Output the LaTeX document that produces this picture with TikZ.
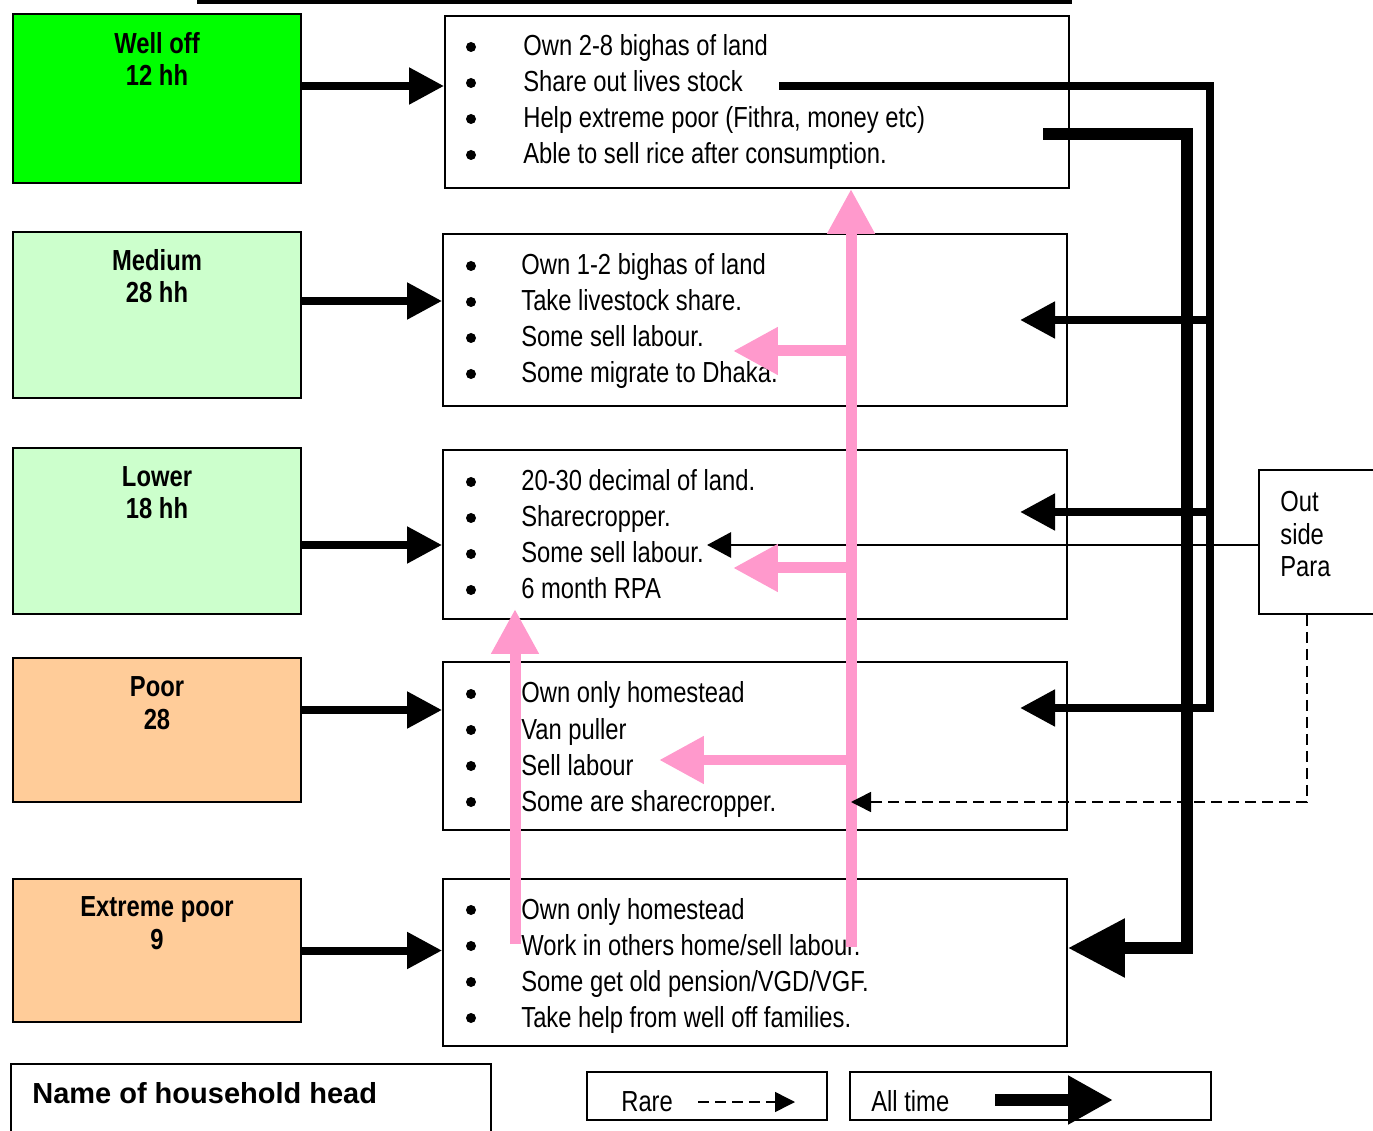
\documentclass[tikz,border=0pt]{standalone}
\usepackage{fontspec}
\setmainfont{Liberation Sans}[FakeStretch=0.82]
\newfontfamily\legendfont{Liberation Sans}
\usetikzlibrary{arrows.meta}
\definecolor{welloffgreen}{RGB}{0,255,0}
\definecolor{palegreen}{RGB}{204,255,204}
\definecolor{peach}{RGB}{255,204,153}
\definecolor{pinkline}{RGB}{255,153,204}
\def\rowfont{\fontsize{16.5}{18.7}\selectfont}
\tikzset{
	catbox/.style={draw, line width=1.1pt, minimum width=5.76cm, inner sep=0pt},
	infobox/.style={draw, line width=1.1pt, minimum width=12.48cm, inner sep=0pt},
	cattitle/.style={font=\rowfont\bfseries, align=center, anchor=base, inner sep=0pt},
	row/.style={font=\rowfont, anchor=base west, inner sep=0pt},
	dot/.style={circle, fill, inner sep=0pt, minimum size=0.2cm},
	allarrow/.style={line width=0.16cm, -{Triangle[length=0.7cm,width=0.7cm]}},
	busthick/.style={line width=0.24cm, line join=miter, -{Triangle[length=1.14cm,width=1.12cm]}},
	pinkarrow/.style={draw=pinkline, line width=0.22cm, -{Triangle[length=0.9cm,width=0.9cm]}},
	thinarrow/.style={line width=1.7pt, -{Triangle[length=0.48cm,width=0.5cm]}},
	rarearrow/.style={line width=0.85pt, dash pattern=on 0.22cm off 0.12cm, -{Triangle[length=0.4cm,width=0.4cm]}}
}
% bullet rows of one box: x of text, first baseline, name prefix, rows
\def\bulletrows#1#2#3#4{%
	\foreach \txt [count=\i] in {#4} {
		\node[dot] at ({471},{#2-9+36*(\i-1)}) {};
		\node[row] (#3\i) at ({#1},{#2+36*(\i-1)}) {\txt};
	}%
}

\begin{document}
\begin{tikzpicture}[x=0.02cm,y=-0.02cm]
	%%%%% START %%%%%
	\clip (0,0) rectangle (1373,1131);
	\draw[line width=2.8pt] (197,2) -- (1072,2);
	
	% household groups
	\node[catbox, fill=welloffgreen, minimum height=3.38cm] (welloff) at (157,98.5) {};
	\node[catbox, fill=palegreen, minimum height=3.32cm] (medium) at (157,315) {};
	\node[catbox, fill=palegreen, minimum height=3.32cm] (lower) at (157,531) {};
	\node[catbox, fill=peach, minimum height=2.88cm] (poor) at (157,730) {};
	\node[catbox, fill=peach, minimum height=2.86cm] (xpoor) at (157,950.5) {};
	
	\node[cattitle] (welloff-name) at (157,86) {Well off\\12 hh};
	\node[cattitle] (medium-name) at (157,303) {Medium\\28 hh};
	\node[cattitle] (lower-name) at (157,519) {Lower\\18 hh};
	\node[cattitle] (poor-name) at (157,729) {Poor\\28};
	\node[cattitle] (xpoor-name) at (157,949) {Extreme poor\\9};
	
	% what each group has
	\node[infobox, minimum height=3.44cm] (welloff-info) at (757,102) {};
	\node[infobox, minimum height=3.44cm] (medium-info) at (755,320) {};
	\node[infobox, minimum height=3.38cm] (lower-info) at (755,534.5) {};
	\node[infobox, minimum height=3.36cm] (poor-info) at (755,746) {};
	\node[infobox, minimum height=3.34cm] (xpoor-info) at (755,962.5) {};
	
	\bulletrows{523}{56}{w}{Own 2-8 bighas of land, Share out lives stock, {Help extreme poor (Fithra, money etc)}, Able to sell rice after consumption.}
	\bulletrows{521}{275}{m}{Own 1-2 bighas of land, Take livestock share., Some sell labour., Some migrate to Dhaka.}
	\bulletrows{521}{491}{l}{20-30 decimal of land., Sharecropper., Some sell labour., 6 month RPA}
	\bulletrows{521}{703}{p}{Own only homestead, Van puller, Sell labour, Some are sharecropper.}
	\bulletrows{521}{919}{x}{Own only homestead, Work in others home/sell labour., Some get old pension/VGD/VGF., Take help from well off families.}
	
	\foreach \a/\s in {welloff/0.25, medium/0.28, lower/-0.28, poor/0.4, xpoor/0}
		\draw[allarrow] ([yshift=\s cm]\a.east) -- ([yshift=\s cm]\a.east -| \a-info.west);
	
	% outside para
	\node[draw, line width=1.1pt, minimum width=4.56cm, minimum height=2.88cm] (para) at (1373,542) {};
	\node[row, align=left] (para-name) at (1280,577) {Out\\side\\Para};
	
	% sharing lines on the right
	\coordinate (share end) at (779,86);
	\coordinate (bus a top) at (1210,86);
	\coordinate (bus a low) at (1210,708);
	\coordinate (medium tip) at (1020,320);
	\coordinate (lower tip) at (1020,512);
	\coordinate (poor tip) at (1020,708);
	\draw[allarrow, line join=miter] (share end) -- (bus a top) -- (bus a low) -- (poor tip);
	\draw[allarrow] (bus a top |- medium tip) -- (medium tip);
	\draw[allarrow] (bus a top |- lower tip) -- (lower tip);
	
	\coordinate (help end) at (1043,134);
	\coordinate (bus b top) at (1187,134);
	\draw[busthick] (help end) -- (bus b top) -- ([yshift=0.29cm]bus b top |- xpoor-info.east) -- ([yshift=0.29cm]xpoor-info.east);
	
	\coordinate (para tip) at (707,545);
	\draw[thinarrow] (para.west |- para tip) -- (para tip);
	
	% movement between groups
	\coordinate (pink foot) at (851,947);
	\coordinate (pk medium) at (733,351);
	\coordinate (pk lower) at (733,568);
	\coordinate (pk poor) at (659,760);
	\draw[pinkarrow] (pink foot) -- (pink foot |- welloff-info.south);
	\draw[pinkarrow] (pink foot |- pk medium) -- (pk medium);
	\draw[pinkarrow] (pink foot |- pk lower) -- (pk lower);
	\draw[pinkarrow] (pink foot |- pk poor) -- (pk poor);
	\coordinate (pink foot2) at (515,944);
	\draw[pinkarrow] (pink foot2) -- (515,609);
	
	\coordinate (rare bend) at (1307,802);
	\coordinate (rare tip) at (851,802);
	\draw[rarearrow] (para.south -| rare bend) -- (rare bend) -- (rare tip);
	
	% legend
	\node[draw, line width=1.1pt, minimum width=9.6cm, minimum height=2.72cm] (namebox) at (251,1132) {};
	\node[anchor=base west, inner sep=0pt, font=\legendfont\fontsize{16.5}{18.7}\selectfont\bfseries] (name-label) at (32,1103) {Name of household head};
	
	\node[draw, line width=1.1pt, minimum width=4.8cm, minimum height=0.96cm] (rarebox) at (707,1096) {};
	\node[row] (rare-label) at (621,1111) {Rare};
	\coordinate (rare a) at (698,1102);
	\coordinate (rare b) at (795,1102);
	\draw[rarearrow] (rare a) -- (rare b);
	
	\node[draw, line width=1.1pt, minimum width=7.22cm, minimum height=0.96cm] (alltimebox) at (1030.5,1096) {};
	\node[row] (alltime-label) at (871,1111) {All time};
	\coordinate (alltime a) at (995,1100);
	\coordinate (alltime b) at (1113,1100);
	\draw[line width=0.24cm, -{Triangle[length=0.9cm,width=0.92cm]}] (alltime a) -- (alltime b);
	%%%%% END %%%%%
\end{tikzpicture}
\end{document}
